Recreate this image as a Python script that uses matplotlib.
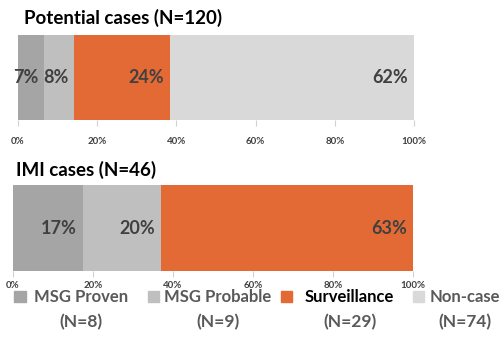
import matplotlib.pyplot as plt
from matplotlib.patches import Rectangle

plt.rcParams['font.family'] = ['Lato', 'DejaVu Sans']

# Categories and counts
categories = ["MSG Proven", "MSG Probable", "Surveillance", "Non-case"]
potential_counts = [8, 9, 29, 74]
imi_counts = [8, 9, 29, 0]
legend_counts = [8, 9, 29, 74]
colors = ["#a5a5a5", "#bfbfbf", "#e46a35", "#d9d9d9"]
ticks = [0, 20, 40, 60, 80, 100]
tick_labels = ["0%", "20%", "40%", "60%", "80%", "100%"]

W, H = 502, 352
fig = plt.figure(figsize=(W / 100, H / 100), dpi=100)


def px_axes(x0, y0, x1, y1):
    return fig.add_axes([x0 / W, 1 - y1 / H, (x1 - x0) / W, (y1 - y0) / H])


def stacked_panel(ax, counts, title, title_x, title_y, pad):
    total = sum(counts)
    left = 0
    for n, c in zip(counts, colors):
        if n == 0:
            continue
        pct = n / total * 100
        ax.barh(0, pct, left=left, height=1, color=c, edgecolor="none")
        ax.annotate(f"{pct:.0f}%", xy=(left + pct, 0), xytext=(-4, 0),
                    textcoords="offset points", ha="right", va="center",
                    fontsize=13, fontweight="bold", color="#404040")
        left += pct
    ax.set_xlim(0, 100)
    ax.set_ylim(-0.5, 0.5)
    ax.set_yticks([])
    ax.set_xticks(ticks)
    ax.set_xticklabels(tick_labels, fontsize=7, fontweight="bold", color="#404040")
    ax.tick_params(axis="x", length=4, width=0.8, color="#d0d0d0", pad=pad)
    for s in ax.spines.values():
        s.set_visible(False)
    fig.text(title_x / W, 1 - title_y / H, title, fontsize=13.5,
             fontweight="bold", color="black", ha="left", va="center")


ax1 = px_axes(18, 35, 414, 120)
stacked_panel(ax1, potential_counts, "Potential cases (N=120)", 24, 18, 8)

ax2 = px_axes(13, 185, 413, 271)
stacked_panel(ax2, imi_counts, "IMI cases (N=46)", 16, 170, 3.5)

# Legend drawn by hand: square marker + two-line label
legend_sq = [(14, 26), (148, 159), (281, 292), (413, 424)]
legend_txt = [(30, 132), (163, 273), (302, 397), (430, 500)]
for i, name in enumerate(categories):
    x0, x1 = legend_sq[i]
    fig.add_artist(Rectangle((x0 / W, 1 - 302 / H), (x1 - x0) / W, 11 / H,
                             transform=fig.transFigure, color=colors[i]))
    tx0, tx1 = legend_txt[i]
    cx = (tx0 + tx1) / 2 / W
    tcol = "black" if name == "Surveillance" else "#595959"
    fig.text(cx, 1 - 297 / H, name, fontsize=12, fontweight="bold",
             color=tcol, ha="center", va="center")
    fig.text(cx, 1 - 322 / H, f"(N={legend_counts[i]})", fontsize=12.5,
             fontweight="bold", color="#595959", ha="center", va="center")

fig.savefig("out.png", dpi=100)
